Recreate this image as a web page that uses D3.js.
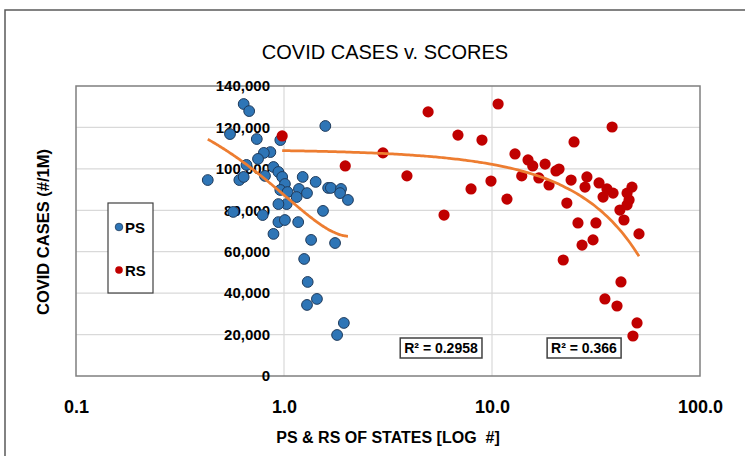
<!DOCTYPE html>
<html>
<head>
<meta charset="utf-8">
<script src="https://cdn.jsdelivr.net/npm/d3@7"></script>
<style>
  body { margin: 0; background: #fff; }
  text { font-family: "Liberation Sans", Arial, sans-serif; fill: #000; }
</style>
</head>
<body>
<div id="chart"></div>
<script>
// PS series: score of state (log axis) and covid cases per 1M
var psScores = [0.43, 0.55, 0.64, 0.68, 0.74, 0.96, 0.86, 0.80, 0.75, 0.66,
                0.89, 0.94, 0.61, 0.64, 0.81, 0.98, 1.01, 0.96, 1.04, 1.03,
                0.57, 0.79, 1.23, 1.42, 1.63, 1.68, 1.88, 1.86, 2.03, 1.18,
                1.29, 1.15, 0.94, 1.54, 0.94, 1.01, 1.17, 0.89, 1.35, 1.76,
                1.25, 1.30, 1.44, 1.29, 1.94, 1.80, 1.58];
var psCases = [94600, 116800, 131300, 127900, 114400, 113900, 108100, 107700, 104800, 101900,
               100900, 98500, 94600, 96100, 96600, 96100, 92700, 89800, 88800, 83000,
               79200, 77700, 96100, 93700, 90800, 90800, 90300, 88300, 85000, 90300,
               88300, 86400, 83000, 79700, 74300, 75300, 74300, 68600, 65700, 64200,
               56500, 45400, 37200, 34300, 25600, 19800, 120700];

// RS series
var rsScores = [0.98, 1.97, 2.99, 3.90, 4.93, 5.88, 6.86, 8.95, 9.89, 7.93,
                10.7, 12.9, 11.8, 13.9, 14.9, 15.7, 18.0, 16.8, 18.8, 20.3,
                21.0, 24.0, 24.8, 22.9, 28.6, 28.0, 32.7, 35.7, 38.2, 34.2,
                37.8, 47.1, 44.6, 45.6, 44.6, 41.2, 43.1, 25.9, 31.6, 50.9,
                30.6, 27.1, 22.0, 41.7, 34.9, 39.9, 49.8, 47.6];
var rsCases = [115900, 101400, 107700, 96600, 127500, 77700, 116300, 113900, 94100, 90300,
               131300, 107200, 85400, 96600, 104300, 101400, 102300, 95600, 92200, 99000,
               99900, 94600, 113000, 83500, 96100, 91200, 93200, 90300, 88300, 86400,
               120200, 91200, 88300, 85000, 82600, 80100, 75300, 73900, 73900, 68600,
               65700, 63200, 56000, 45400, 37200, 33800, 25600, 19300];

var xTicks = [0.1, 1, 10, 100];
var yTicks = [0, 20000, 40000, 60000, 80000, 100000, 120000, 140000];
var seriesNames = ["PS", "RS"];
var r2Labels = ["R\u00B2 = 0.2958", "R\u00B2 = 0.366"];

var W = 745, H = 456;
var plot = {left: 76, right: 700, top: 86, bottom: 376};

var svg = d3.select("#chart").append("svg")
  .attr("width", W)
  .attr("height", H);

svg.append("rect").attr("width", W).attr("height", H).attr("fill", "#fff");

// outer chart frame (only left and top edges are visible)
svg.append("path")
  .attr("d", "M5," + H + " L5,10 L" + W + ",10")
  .attr("fill", "none")
  .attr("stroke", "#595959")
  .attr("stroke-width", 1.5);

var x = d3.scaleLog().domain([0.1, 100]).range([plot.left, plot.right]);
var y = d3.scaleLinear().domain([0, 140000]).range([plot.bottom, plot.top]);

// gridlines
svg.append("g").selectAll("line.h")
  .data(yTicks.slice(1, -1))
  .enter().append("line")
    .attr("x1", plot.left).attr("x2", plot.right)
    .attr("y1", function(d) { return y(d); })
    .attr("y2", function(d) { return y(d); })
    .attr("stroke", "#d9d9d9")
    .attr("stroke-width", 1.2);
svg.append("g").selectAll("line.v")
  .data(xTicks.slice(1, -1))
  .enter().append("line")
    .attr("y1", plot.top).attr("y2", plot.bottom)
    .attr("x1", function(d) { return x(d); })
    .attr("x2", function(d) { return x(d); })
    .attr("stroke", "#d9d9d9")
    .attr("stroke-width", 1.2);

// plot area border
svg.append("rect")
  .attr("x", plot.left).attr("y", plot.top)
  .attr("width", plot.right - plot.left)
  .attr("height", plot.bottom - plot.top)
  .attr("fill", "none")
  .attr("stroke", "#7f7f7f")
  .attr("stroke-width", 1.5);

// X axis labels
var xAxis = svg.append("g")
  .attr("transform", "translate(0," + plot.bottom + ")")
  .call(d3.axisBottom(x).tickValues(xTicks).tickFormat(d3.format(".1f")).tickSize(0).tickPadding(24));
xAxis.select(".domain").remove();
xAxis.selectAll("text")
  .style("font-family", "'Liberation Sans', Arial, sans-serif")
  .style("font-size", "18px")
  .style("font-weight", "bold")
  .attr("fill", "#000");

// Y axis crosses at x = 1.0
var yAxis = svg.append("g")
  .attr("transform", "translate(" + x(1) + ",0)")
  .call(d3.axisLeft(y).tickValues(yTicks).tickFormat(d3.format(",")).tickSize(0).tickPadding(14));
yAxis.select(".domain").remove();
yAxis.selectAll("text")
  .style("font-family", "'Liberation Sans', Arial, sans-serif")
  .style("font-size", "15px")
  .style("font-weight", "bold")
  .attr("fill", "#000");

// points
var ps = psScores.map(function(d, i) { return {x: d, y: psCases[i]}; });
var rs = rsScores.map(function(d, i) { return {x: d, y: rsCases[i]}; });

svg.append("g").selectAll("circle")
  .data(ps)
  .enter().append("circle")
    .attr("cx", function(d) { return x(d.x); })
    .attr("cy", function(d) { return y(d.y); })
    .attr("r", 5.4)
    .attr("fill", "#2e75b6")
    .attr("stroke", "#1f3b5c")
    .attr("stroke-width", 1);

svg.append("g").selectAll("circle")
  .data(rs)
  .enter().append("circle")
    .attr("cx", function(d) { return x(d.x); })
    .attr("cy", function(d) { return y(d.y); })
    .attr("r", 5.6)
    .attr("fill", "#c00000");

// 2nd order polynomial trendline (least squares, like Excel)
function polyFit(data) {
  var s = [0, 0, 0, 0, 0], t = [0, 0, 0];
  data.forEach(function(d) {
    var p = 1;
    for (var k = 0; k < 5; k++) { s[k] += p; if (k < 3) t[k] += p * d.y; p *= d.x; }
  });
  var m = [[s[0], s[1], s[2], t[0]], [s[1], s[2], s[3], t[1]], [s[2], s[3], s[4], t[2]]];
  for (var i = 0; i < 3; i++) {
    for (var j = i + 1; j < 3; j++) {
      var f = m[j][i] / m[i][i];
      for (var k = i; k < 4; k++) m[j][k] -= f * m[i][k];
    }
  }
  var c = [0, 0, 0];
  for (var i = 2; i >= 0; i--) {
    var v = m[i][3];
    for (var k = i + 1; k < 3; k++) v -= m[i][k] * c[k];
    c[i] = v / m[i][i];
  }
  return c;
}

function trend(data) {
  var c = polyFit(data);
  var ext = d3.extent(data, function(d) { return d.x; });
  var pts = d3.range(0, 101).map(function(i) {
    var xv = Math.exp(Math.log(ext[0]) + (Math.log(ext[1]) - Math.log(ext[0])) * i / 100);
    return {x: xv, y: c[0] + c[1] * xv + c[2] * xv * xv};
  });
  return pts;
}

var line = d3.line()
  .x(function(d) { return x(d.x); })
  .y(function(d) { return y(d.y); })
  .curve(d3.curveMonotoneX);

[ps, rs].forEach(function(s) {
  svg.append("path")
    .datum(trend(s))
    .attr("d", line)
    .attr("fill", "none")
    .attr("stroke", "#ed7d31")
    .attr("stroke-width", 2.75);
});

// R² labels
var r2Pos = [[441, 348], [584, 348]];
r2Labels.forEach(function(t, i) {
  var g = svg.append("g");
  var txt = g.append("text")
    .attr("x", r2Pos[i][0]).attr("y", r2Pos[i][1])
    .attr("text-anchor", "middle")
    .attr("dominant-baseline", "central")
    .style("font-size", "14px")
    .style("font-weight", "bold")
    .text(t);
  var bb = txt.node().getBBox();
  g.insert("rect", "text")
    .attr("x", bb.x - 4).attr("y", r2Pos[i][1] - 10)
    .attr("width", bb.width + 8).attr("height", 20)
    .attr("fill", "#fff")
    .attr("stroke", "#404040")
    .attr("stroke-width", 1.5);
});

// legend
var lg = svg.append("g");
lg.append("rect")
  .attr("x", 108).attr("y", 203)
  .attr("width", 45).attr("height", 90)
  .attr("fill", "#fff")
  .attr("stroke", "#404040")
  .attr("stroke-width", 1.2);
var legendColors = ["#2e75b6", "#c00000"];
seriesNames.forEach(function(n, i) {
  var cy = 227 + i * 43;
  lg.append("circle")
    .attr("cx", 119).attr("cy", cy).attr("r", 3.8)
    .attr("fill", legendColors[i])
    .attr("stroke", i === 0 ? "#1f3b5c" : "none")
    .attr("stroke-width", 0.8);
  lg.append("text")
    .attr("x", 125).attr("y", cy)
    .attr("dominant-baseline", "central")
    .style("font-size", "15px")
    .style("font-weight", "bold")
    .text(n);
});

// titles
svg.append("text")
  .attr("x", 385).attr("y", 52)
  .attr("text-anchor", "middle")
  .attr("dominant-baseline", "central")
  .style("font-size", "20px")
  .text("COVID CASES v. SCORES");

svg.append("text")
  .attr("x", 388).attr("y", 437)
  .attr("text-anchor", "middle")
  .attr("dominant-baseline", "central")
  .style("font-size", "16px")
  .style("font-weight", "bold")
  .style("white-space", "pre")
  .text("PS & RS OF STATES [LOG  #]");

svg.append("text")
  .attr("transform", "translate(43,232) rotate(-90)")
  .attr("text-anchor", "middle")
  .attr("dominant-baseline", "central")
  .style("font-size", "16.5px")
  .style("font-weight", "bold")
  .text("COVID CASES (#/1M)");
</script>
</body>
</html>
